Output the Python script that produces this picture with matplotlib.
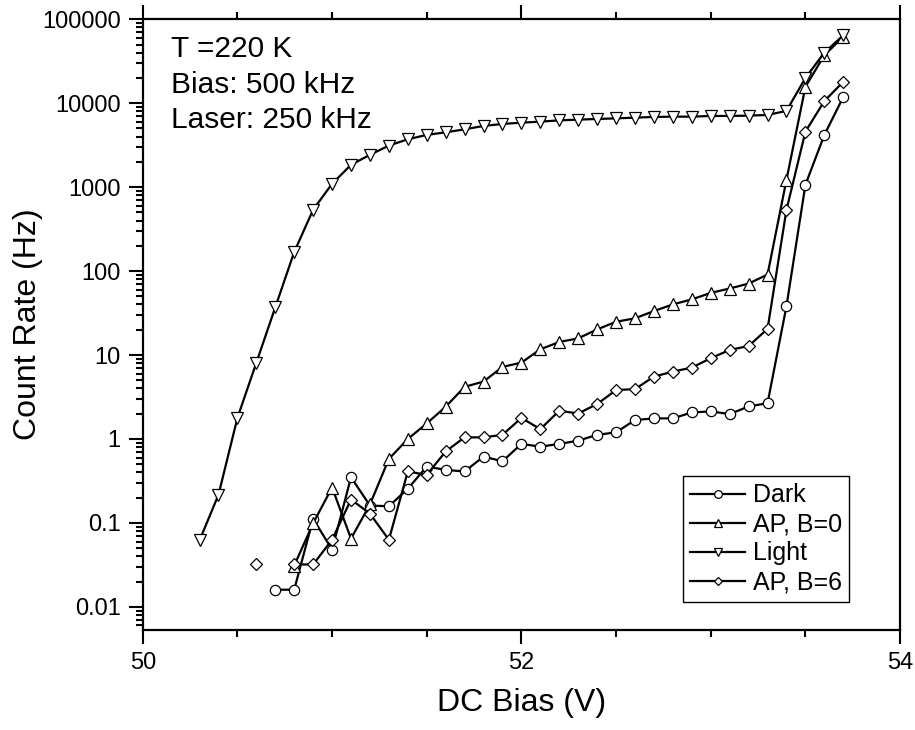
import numpy as np
import matplotlib
matplotlib.use("Agg")
from matplotlib import pyplot as plt
from matplotlib.ticker import LogLocator, MultipleLocator, FixedLocator, NullFormatter

plt.rcParams['font.family'] = ['Liberation Sans', 'DejaVu Sans']

# bias steps are 0.1 V; each series starts at its own voltage
dark_start = 50.7
dark = [0.016, 0.016, 0.112, 0.048, 0.35, 0.161, 0.158, 0.255, 0.469, 0.428,
        0.41, 0.617, 0.542, 0.873, 0.81, 0.873, 0.955, 1.12, 1.2, 1.68,
        1.76, 1.76, 2.07, 2.13, 1.98, 2.44, 2.67, 38.3, 1067, 4190, 11860]

ap0_start = 50.8
ap0 = [0.031, 0.099, 0.264, 0.065, 0.166, 0.578, 1.0, 1.53, 2.42, 4.18,
       4.83, 7.22, 8.12, 11.7, 14.3, 15.8, 20.2, 24.9, 27.4, 33.4,
       40.1, 46, 55, 62, 71, 91, 1225, 15700, 37300, 62000]

light_start = 50.3
light = [0.062, 0.216, 1.78, 8.1, 37, 169, 538, 1097, 1845, 2427,
         3128, 3718, 4190, 4500, 4886, 5360, 5660, 5865, 6030, 6250,
         6370, 6490, 6600, 6730, 6860, 6915, 6915, 7050, 7050, 7110,
         7245, 8100, 20000, 40000, 64500]

# no count at 50.7 V for B=6 -> gap
ap6_start = 50.6
ap6 = [0.032, np.nan, 0.032, 0.032, 0.063, 0.19, 0.129, 0.063, 0.41, 0.373,
       0.71, 1.045, 1.045, 1.12, 1.78, 1.31, 2.17, 2.01, 2.61, 3.82,
       3.93, 5.53, 6.35, 7.08, 9.16, 11.5, 12.8, 20.5, 538, 4584,
       10600, 18000]

labels = ["Dark", "AP, B=0", "Light", "AP, B=6"]
notes = ["T =220 K", "Bias: 500 kHz", "Laser: 250 kHz"]


def volts(start, vals):
    return np.round(start + 0.1 * np.arange(len(vals)), 1)


fig = plt.figure(figsize=(9.15, 7.3), dpi=100)
ax = fig.add_axes([0.156, 0.137, 0.8277, 0.8366])

series = [(dark_start, dark, "o", 7.4), (ap0_start, ap0, "^", 8.0),
          (light_start, light, "v", 8.0), (ap6_start, ap6, "D", 5.8)]
for (st, vals, mk, ms), lab in zip(series, labels):
    ax.plot(volts(st, vals), vals, color="black", lw=1.6, marker=mk, ms=ms,
            mfc="white", mec="black", mew=0.9, label=lab)

ax.set_yscale("log")
ax.set_xlim(50, 54)
ax.set_ylim(0.0053, 1e5)
ax.xaxis.set_major_locator(FixedLocator([50, 52, 54]))
ax.xaxis.set_minor_locator(MultipleLocator(0.5))
ax.set_xticklabels(["50", "52", "54"])
ax.yaxis.set_minor_locator(LogLocator(base=10, subs=np.arange(2, 10), numticks=20))
ax.yaxis.set_minor_formatter(NullFormatter())
ax.set_yticks([0.01, 0.1, 1, 10, 100, 1000, 10000, 100000])
ax.set_yticklabels(["0.01", "0.1", "1", "10", "100", "1000", "10000", "100000"])

for s in ax.spines.values():
    s.set_linewidth(1.6)
ax.tick_params(which="both", direction="out", width=1.5, top=True, right=False,
               labelsize=17)
ax.tick_params(which="major", length=10)
ax.tick_params(which="minor", length=5)
ax.tick_params(axis="x", pad=6)
ax.tick_params(axis="y", pad=6)

ax.set_xlabel("DC Bias (V)", fontsize=23, labelpad=10)
ax.set_ylabel("Count Rate (Hz)", fontsize=23, va="center")
ax.yaxis.set_label_coords(-0.152, 0.5)

base_y = [0.938, 0.879, 0.8215]
for t, yy in zip(notes, base_y):
    ax.text(0.037, yy, t, transform=ax.transAxes, fontsize=21.5, va="baseline")

leg = ax.legend(loc="lower right", bbox_to_anchor=(0.933, 0.046), borderaxespad=0,
                fontsize=18, handlelength=2.2, handletextpad=0.3, borderpad=0.3,
                labelspacing=0.2, markerscale=0.75, fancybox=False, framealpha=1)
leg.get_frame().set_edgecolor("black")
leg.get_frame().set_linewidth(1.0)

fig.savefig("out.png", dpi=100)
